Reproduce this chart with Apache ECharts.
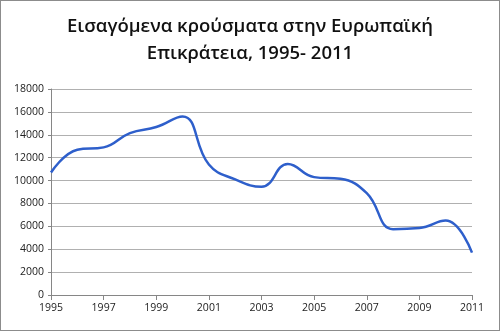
<!DOCTYPE html>
<html>
<head>
<meta charset="utf-8">
<script src="https://cdn.jsdelivr.net/npm/echarts@6/dist/echarts.min.js"></script>
<style>
  html, body { margin: 0; padding: 0; background: #fff; }
  #chart { width: 500px; height: 331px; box-sizing: border-box; border: 1px solid #8c8c8c; }
</style>
</head>
<body>
<div id="chart"></div>
<script>
// Imported cases per year, European region
const years = ['1995','1996','1997','1998','1999','2000','2001','2002','2003',
               '2004','2005','2006','2007','2008','2009','2010','2011'];
const cases = [10700, 12700, 12900, 14150, 14680, 15600, 11400, 10100, 9450,
               11450, 10300, 10150, 8900, 5750, 5850, 6500, 3700];
const titleText = 'Εισαγόμενα κρούσματα στην Ευρωπαϊκή\nΕπικράτεια, 1995- 2011';

const chart = echarts.init(document.getElementById('chart'), null, { renderer: 'canvas' });
chart.setOption({
  animation: false,
  backgroundColor: '#fff',
  title: {
    text: titleText,
    left: 'center',
    top: 7,
    textStyle: {
      fontFamily: 'Open Sans',
      fontSize: 18.5,
      fontWeight: 600,
      color: '#111',
      lineHeight: 27
    }
  },
  grid: { left: 50, right: 27, top: 88, bottom: 35, containLabel: false },
  xAxis: {
    type: 'category',
    data: years,
    boundaryGap: false,
    axisLine: { lineStyle: { color: '#868686', width: 1 } },
    axisTick: { show: true, interval: 1, length: 5, lineStyle: { color: '#868686' } },
    axisLabel: { interval: 1, color: '#222', fontFamily: 'Open Sans', fontSize: 10.5, margin: 8 },
    splitLine: { show: false }
  },
  yAxis: {
    type: 'value',
    min: 0,
    max: 18000,
    interval: 2000,
    axisLine: { show: true, lineStyle: { color: '#868686', width: 1 } },
    axisTick: { show: true, length: 3, lineStyle: { color: '#868686' } },
    axisLabel: {
      color: '#222', fontFamily: 'Open Sans', fontSize: 10.5, margin: 7,
      formatter: v => String(v)
    },
    splitLine: { show: true, lineStyle: { color: '#b0b0b0', width: 1 } }
  },
  series: [{
    type: 'line',
    data: cases,
    smooth: 0.45,
    showSymbol: false,
    lineStyle: { color: '#2e5fcb', width: 2.5 }
  }]
});
</script>
</body>
</html>
